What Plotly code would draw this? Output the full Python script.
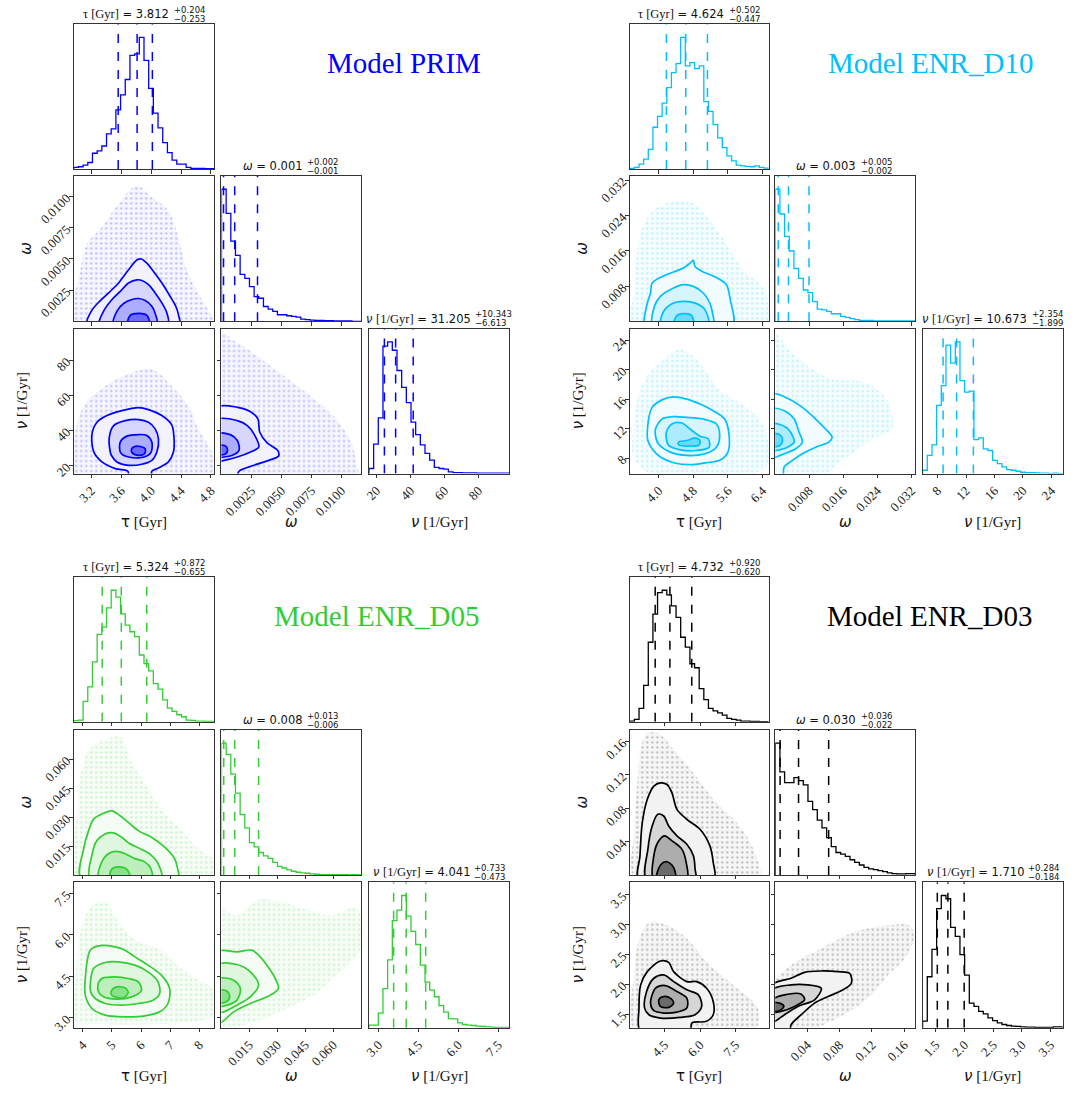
import numpy as np
import plotly.graph_objects as go

W, H = 1083, 1099

# ======================= DATA =======================
# ---------- Model PRIM ----------
prim_tau_range = [2.964, 4.844]
prim_omega_range = [0.0, 0.01165]
prim_nu_range = [15.5, 98.0]
prim_tau_counts = [5, 7, 12, 20, 48, 55, 70, 107, 122, 180, 225, 272, 345, 350, 400, 330, 245, 170, 125, 80, 50, 27, 15, 15, 5, 2, 2, 2, 1, 1]
prim_omega_counts = [400, 327, 243, 200, 142, 130, 105, 75, 70, 45, 37, 30, 20, 20, 17, 15, 13, 7, 5, 4, 3, 3, 2, 2, 1, 1, 1, 1, 0, 0]
prim_nu_counts = [15, 87, 165, 377, 390, 365, 305, 255, 210, 152, 115, 85, 60, 40, 18, 15, 13, 5, 3, 3, 2, 2, 2, 1, 1, 1, 1, 1, 1, 1]
prim_tau_q = [3.559, 3.812, 4.016]
prim_omega_q = [0.00017, 0.0011, 0.0030]
prim_nu_q = [24.592, 31.205, 41.548]
prim_tau_ticks = [3.2, 3.6, 4.0, 4.4, 4.8]
prim_tau_ticktext = ["3.2", "3.6", "4.0", "4.4", "4.8"]
prim_omega_ticks = [0.0025, 0.005, 0.0075, 0.01]
prim_omega_ticktext = ["0.0025", "0.0050", "0.0075", "0.0100"]
prim_nu_ticks = [20, 40, 60, 80]
prim_nu_ticktext = ["20", "40", "60", "80"]
prim_stats = [("3.812", "+0.204", "−0.253"), ("0.001", "+0.002", "−0.001"), ("31.205", "+10.343", "−6.613")]

prim_tw_env = ([3.009, 3.053, 3.143, 3.343, 3.564, 3.809, 4.009, 4.231, 4.364, 4.476, 4.676, 4.809, 4.831],
               [-0.0003, 0.00413, 0.00625, 0.00757, 0.00942, 0.01088, 0.00995, 0.00889, 0.00677, 0.00413, 0.00175, 0.00042, -0.0003])
prim_tw_c4 = ([3.143, 3.200, 3.297, 3.431, 3.564, 3.697, 3.809, 3.867, 3.943, 4.031, 4.143, 4.253, 4.329, 4.364, 4.373],
              [-0.0003, 0.00082, 0.00153, 0.00228, 0.00307, 0.00413, 0.00492, 0.00500, 0.00466, 0.00399, 0.00307, 0.00201, 0.00121, 0.00056, -0.0003])
prim_tw_c3 = ([3.307, 3.364, 3.476, 3.587, 3.697, 3.809, 3.876, 3.964, 4.053, 4.143, 4.209, 4.223],
              [-0.0003, 0.00082, 0.00175, 0.00241, 0.00307, 0.00333, 0.00328, 0.00294, 0.00228, 0.00148, 0.00069, -0.0003])
prim_tw_c2 = ([3.497, 3.543, 3.631, 3.743, 3.831, 3.920, 4.009, 4.053, 4.076],
              [-0.0003, 0.00082, 0.00143, 0.00175, 0.00183, 0.00167, 0.00121, 0.00064, -0.0003])
prim_tw_c1 = ([3.688, 3.720, 3.831, 3.943, 3.973],
              [-0.0003, 0.00048, 0.00064, 0.00048, -0.0003])

prim_tn_env = ([2.995, 2.995, 3.098, 3.387, 3.742, 4.009, 4.275, 4.498, 4.631, 4.809, 4.844],
               [14.0, 40.9, 54.0, 65.4, 72.9, 74.8, 65.4, 54.0, 40.9, 27.75, 14.0])
prim_tn_c4 = ([3.706, 3.689, 3.520, 3.342, 3.231, 3.209, 3.275, 3.409, 3.609, 3.831, 3.964, 4.142, 4.275, 4.306, 4.298, 4.231, 4.098, 4.009, 4.000],
              [14.0, 16.8, 18.3, 22.1, 28.0, 38.1, 44.7, 48.5, 51.3, 53.0, 51.9, 48.5, 43.2, 35.3, 27.75, 22.1, 18.7, 16.8, 14.0])
prim_tn_c3 = ([3.453, 3.440, 3.498, 3.653, 3.831, 3.964, 4.053, 4.098, 4.076, 4.009, 3.875, 3.698, 3.542, 3.467],
              [27.75, 36.2, 42.8, 45.6, 46.2, 44.7, 40.9, 35.3, 27.75, 23.0, 20.8, 20.2, 22.1, 25.9])
prim_tn_c2 = ([3.586, 3.586, 3.675, 3.831, 3.942, 4.009, 4.000, 3.942, 3.831, 3.698, 3.618],
              [27.75, 33.4, 36.8, 37.7, 37.2, 33.4, 27.75, 25.5, 24.4, 24.9, 26.2])
prim_tn_c1 = ([3.733, 3.764, 3.853, 3.920, 3.911, 3.831, 3.764],
              [28.7, 30.6, 30.9, 29.6, 26.8, 25.9, 26.6])

prim_wn_env = ([-0.0003, 0.00132, 0.00297, 0.00517, 0.00737, 0.00930, 0.01081, 0.01122, 0.01136, -0.0003],
               [95.5, 89.9, 82.4, 71.1, 59.8, 48.5, 33.4, 22.1, 14.0, 14.0])
prim_wn_c4 = ([-0.0003, 0.00132, 0.00242, 0.00303, 0.00319, 0.00380, 0.00468, 0.00476, 0.00393, 0.00270, 0.00146, 0.00127, -0.0003],
              [53.2, 53.2, 50.7, 46.6, 39.0, 33.0, 28.7, 25.5, 23.0, 20.2, 16.8, 14.0, 14.0])
prim_wn_c3 = ([-0.0003, 0.00132, 0.00215, 0.00270, 0.00311, 0.00242, 0.00132, 0.00022, -0.0003],
              [46.2, 45.6, 42.8, 38.1, 30.6, 27.75, 24.9, 23.0, 22.7])
prim_wn_c2 = ([-0.0003, 0.00077, 0.00132, 0.00146, 0.00091, 0.00022, -0.0003],
              [38.1, 37.5, 34.3, 28.7, 25.9, 24.9, 24.9])
prim_wn_c1 = ([-0.0003, 0.00036, 0.00050, 0.00036, -0.0003],
              [31.5, 31.1, 28.7, 26.8, 26.2])

# ---------- Model ENR_D10 ----------
d10_tau_range = [3.33, 6.54]
d10_omega_range = [0.0001, 0.0329]
d10_nu_range = [5.9, 25.57]
d10_tau_counts = [2, 5, 15, 30, 60, 127, 160, 200, 247, 293, 320, 400, 313, 323, 305, 313, 205, 175, 135, 95, 65, 40, 25, 12, 10, 8, 7, 10, 5, 3]
d10_omega_counts = [400, 325, 257, 213, 160, 130, 95, 87, 60, 37, 35, 30, 23, 23, 15, 12, 8, 5, 3, 3, 3, 1, 1, 1, 1, 1, 1, 1, 1, 1]
d10_nu_counts = [10, 55, 87, 207, 267, 390, 335, 400, 282, 247, 250, 103, 108, 75, 70, 40, 30, 20, 12, 10, 7, 4, 3, 3, 2, 1, 1, 0, 1, 0]
d10_tau_q = [4.177, 4.624, 5.126]
d10_omega_q = [0.0008, 0.0032, 0.0080]
d10_nu_q = [8.774, 10.673, 13.027]
d10_tau_ticks = [4.0, 4.8, 5.6, 6.4]
d10_tau_ticktext = ["4.0", "4.8", "5.6", "6.4"]
d10_omega_ticks = [0.008, 0.016, 0.024, 0.032]
d10_omega_ticktext = ["0.008", "0.016", "0.024", "0.032"]
d10_nu_ticks = [8, 12, 16, 20, 24]
d10_nu_ticktext = ["8", "12", "16", "20", "24"]
d10_stats = [("4.624", "+0.502", "−0.447"), ("0.003", "+0.005", "−0.002"), ("10.673", "+2.354", "−1.899")]

d10_tw_env = ([3.390, 3.428, 3.581, 3.885, 4.343, 4.800, 5.105, 5.562, 5.942, 6.40, 6.514, 6.537],
              [-0.001, 0.0065, 0.020, 0.02525, 0.02713, 0.02675, 0.02375, 0.01775, 0.01175, 0.008, 0.005, -0.001])
d10_tw_c4 = ([3.695, 3.718, 3.809, 3.847, 4.038, 4.343, 4.571, 4.724, 4.800, 4.838, 5.028, 5.333, 5.562, 5.653, 5.699],
             [-0.001, 0.0035, 0.0065, 0.00875, 0.0100, 0.01125, 0.01213, 0.01325, 0.01385, 0.0125, 0.01125, 0.0100, 0.0084, 0.0050, -0.001])
d10_tw_c3 = ([3.870, 3.901, 4.038, 4.343, 4.571, 4.800, 5.028, 5.181, 5.242, 5.257],
             [-0.001, 0.0035, 0.00575, 0.00763, 0.00838, 0.0080, 0.0065, 0.00425, 0.0020, -0.001])
d10_tw_c2 = ([4.053, 4.114, 4.305, 4.571, 4.876, 5.066, 5.143],
             [-0.001, 0.00238, 0.0041, 0.00463, 0.0041, 0.00275, -0.001])
d10_tw_c1 = ([4.343, 4.419, 4.571, 4.762, 4.800],
             [-0.001, 0.0014, 0.00185, 0.0014, -0.001])

d10_tn_env = ([3.413, 3.504, 3.733, 4.114, 4.495, 4.876, 5.409, 5.866, 6.324, 6.514, 6.514, 5.866, 3.962, 3.428],
              [11.95, 16.0, 19.15, 21.39, 22.74, 21.39, 17.25, 15.55, 13.3, 10.61, 7.01, 5.5, 5.5, 7.91])
d10_tn_c4 = ([3.733, 3.847, 4.114, 4.343, 4.647, 4.952, 5.257, 5.524, 5.623, 5.600, 5.409, 5.105, 4.724, 4.343, 4.038, 3.847, 3.748],
             [11.28, 14.88, 16.0, 16.31, 16.0, 15.33, 14.43, 13.3, 11.28, 8.81, 7.69, 7.37, 7.10, 7.37, 8.14, 9.26, 10.38])
d10_tn_c3 = ([3.924, 4.076, 4.343, 4.647, 5.028, 5.333, 5.409, 5.333, 5.066, 4.647, 4.266, 3.990, 3.924],
             [11.95, 13.3, 13.62, 13.53, 13.3, 12.63, 11.06, 9.48, 8.59, 8.36, 8.81, 9.93, 11.06])
d10_tn_c2 = ([4.175, 4.305, 4.533, 4.724, 4.952, 5.143, 5.165, 4.876, 4.495, 4.228, 4.175],
             [11.5, 12.63, 12.76, 11.95, 10.97, 10.61, 9.48, 9.03, 9.12, 9.71, 10.61])
d10_tn_c1 = ([4.457, 4.647, 4.838, 4.952, 4.937, 4.647, 4.457],
             [10.16, 10.38, 10.7, 10.38, 9.80, 9.62, 9.8])

d10_wn_env = ([-0.0005, 0.00413, 0.00877, 0.01342, 0.01961, 0.02271, 0.02658, 0.02736, 0.02271, 0.01884, 0.01497, 0.0111, -0.0005],
              [24.99, 22.29, 20.04, 18.7, 18.47, 17.8, 15.55, 11.95, 10.61, 8.81, 7.46, 5.5, 5.5])
d10_wn_c4 = ([-0.0005, 0.00258, 0.00645, 0.00955, 0.01187, 0.01342, 0.01265, 0.00955, 0.00645, 0.00413, 0.00219, 0.0018, -0.0005],
             [16.67, 16.22, 14.88, 13.3, 11.95, 10.83, 10.16, 9.48, 8.59, 7.69, 6.79, 5.5, 5.5])
d10_wn_c3 = ([-0.0005, 0.00219, 0.00452, 0.00568, 0.00645, 0.0049, 0.00219, 0.00026, -0.0005],
             [14.65, 14.43, 13.3, 11.5, 10.16, 9.26, 8.59, 8.14, 8.1])
d10_wn_c2 = ([-0.0005, 0.00258, 0.00413, 0.00452, 0.00297, 0.00026, -0.0005],
             [12.63, 12.18, 11.06, 10.16, 9.48, 9.03, 9.0])
d10_wn_c1 = ([-0.0005, 0.00118, 0.0018, 0.00118, -0.0005],
             [11.28, 11.14, 10.38, 9.71, 9.62])

# ---------- Model ENR_D05 ----------
d05_tau_range = [3.694, 8.51]
d05_omega_range = [0.0001, 0.0751]
d05_nu_range = [2.64, 7.91]
d05_tau_counts = [3, 5, 61, 105, 180, 263, 285, 343, 396, 375, 325, 291, 271, 256, 201, 175, 153, 115, 98, 66, 41, 31, 21, 15, 5, 4, 2, 2, 1, 1]
d05_omega_counts = [400, 366, 306, 248, 183, 143, 98, 85, 68, 58, 50, 38, 26, 21, 15, 11, 8, 6, 5, 3, 2, 1, 1, 1, 1, 1, 1, 0, 1, 0]
d05_nu_counts = [8, 8, 45, 120, 208, 328, 360, 405, 342, 295, 255, 192, 140, 115, 95, 68, 48, 28, 27, 15, 10, 8, 7, 5, 4, 3, 2, 1, 1, 1]
d05_tau_q = [4.669, 5.324, 6.196]
d05_omega_q = [0.0013, 0.0072, 0.0200]
d05_nu_q = [3.568, 4.041, 4.774]
d05_tau_ticks = [4, 5, 6, 7, 8]
d05_tau_ticktext = ["4", "5", "6", "7", "8"]
d05_omega_ticks = [0.015, 0.030, 0.045, 0.060]
d05_omega_ticktext = ["0.015", "0.030", "0.045", "0.060"]
d05_nu_ticks = [3.0, 4.5, 6.0, 7.5]
d05_nu_ticktext = ["3.0", "4.5", "6.0", "7.5"]
d05_stats = [("5.324", "+0.872", "−0.655"), ("0.008", "+0.013", "−0.006"), ("4.041", "+0.733", "−0.473")]

d05_tw_env = ([3.773, 3.807, 3.921, 4.204, 4.770, 5.280, 5.677, 6.130, 6.697, 7.376, 7.943, 8.453, 8.487],
              [-0.002, 0.03068, 0.05114, 0.06477, 0.06989, 0.07159, 0.05796, 0.04773, 0.03409, 0.02386, 0.01364, 0.00853, -0.002])
d05_tw_c4 = ([3.955, 4.034, 4.204, 4.374, 4.657, 4.997, 5.280, 5.563, 5.903, 6.357, 6.810, 7.150, 7.263, 7.286],
             [-0.002, 0.01364, 0.02301, 0.02898, 0.03154, 0.03324, 0.03068, 0.02727, 0.02301, 0.01961, 0.01449, 0.00853, 0.00256, -0.002])
d05_tw_c3 = ([4.260, 4.317, 4.487, 4.770, 5.054, 5.337, 5.620, 6.017, 6.357, 6.583, 6.697],
             [-0.002, 0.01023, 0.01790, 0.02131, 0.02182, 0.01961, 0.01620, 0.01330, 0.01023, 0.00597, -0.002])
d05_tw_c2 = ([4.567, 4.657, 4.884, 5.167, 5.450, 5.790, 6.130, 6.334, 6.357],
             [-0.002, 0.00682, 0.01108, 0.01227, 0.01108, 0.00853, 0.00682, 0.00341, -0.002])
d05_tw_c1 = ([4.940, 4.997, 5.224, 5.507, 5.620],
             [-0.002, 0.00307, 0.00426, 0.00307, -0.002])

d05_tn_env = ([3.773, 3.773, 3.921, 4.317, 4.770, 5.224, 5.903, 6.583, 7.376, 8.056, 8.453, 8.453, 7.716, 5.903, 4.204],
              [2.855, 4.545, 6.113, 7.079, 7.2, 6.475, 5.751, 5.51, 4.786, 4.303, 4.062, 3.097, 2.855, 2.759, 2.795])
d05_tn_c4 = ([4.09, 4.26, 4.544, 5.11, 5.45, 5.79, 6.243, 6.697, 6.98, 6.923, 6.64, 6.13, 5.45, 4.77, 4.317, 4.09],
             [4.424, 5.45, 5.607, 5.57, 5.45, 5.208, 4.907, 4.545, 4.062, 3.519, 3.217, 3.072, 3.036, 3.097, 3.338, 3.821])
d05_tn_c3 = ([4.26, 4.374, 4.77, 5.224, 5.79, 6.243, 6.583, 6.64, 6.413, 5.903, 5.337, 4.77, 4.43, 4.272],
             [4.183, 4.786, 5.003, 5.027, 4.907, 4.665, 4.303, 3.881, 3.64, 3.519, 3.459, 3.519, 3.7, 3.941])
d05_tn_c2 = ([4.521, 4.657, 5.11, 5.563, 5.903, 6.017, 5.677, 5.167, 4.714, 4.544],
             [4.183, 4.424, 4.484, 4.424, 4.303, 4.002, 3.76, 3.676, 3.76, 3.941])
d05_tn_c1 = ([4.997, 5.167, 5.45, 5.563, 5.394, 5.11, 4.974],
             [4.002, 4.122, 4.086, 3.917, 3.724, 3.76, 3.845])

d05_wn_env = ([-0.002, 0.00842, 0.01909, 0.03155, 0.044, 0.05824, 0.07248, 0.07461, 0.0618, 0.04935, 0.03511, 0.01731, -0.002],
              [6.958, 6.717, 7.26, 7.2, 6.958, 6.717, 6.958, 5.51, 4.545, 3.821, 3.338, 2.855, 2.674])
d05_wn_c4 = ([-0.002, 0.00842, 0.01642, 0.01998, 0.02443, 0.02799, 0.03066, 0.02621, 0.01553, 0.00664, 0.0004, -0.002],
             [5.389, 5.389, 5.45, 5.269, 4.907, 4.545, 4.062, 3.821, 3.519, 3.217, 2.855, 2.8])
d05_wn_c3 = ([-0.002, 0.00842, 0.01553, 0.01998, 0.01553, 0.00842, 0.0013, -0.002],
             [4.907, 4.931, 4.665, 4.183, 3.76, 3.459, 3.217, 3.193])
d05_wn_c2 = ([-0.002, 0.00664, 0.0102, 0.00842, 0.00308, -0.002],
             [4.4, 4.364, 4.062, 3.64, 3.459, 3.434])
d05_wn_c1 = ([-0.002, 0.00308, 0.0045, 0.00272, -0.002],
             [4.002, 3.965, 3.76, 3.58, 3.555])

# ---------- Model ENR_D03 ----------
d03_tau_range = [3.042, 8.889]
d03_omega_range = [0.0005, 0.1737]
d03_nu_range = [1.27, 3.71]
d03_tau_counts = [2, 7, 40, 110, 240, 325, 390, 397, 383, 350, 315, 255, 225, 175, 163, 100, 67, 40, 33, 27, 20, 10, 7, 5, 2, 2, 1, 1, 0, 0]
d03_omega_counts = [400, 313, 280, 280, 295, 286, 273, 223, 198, 166, 143, 113, 86, 68, 63, 56, 46, 38, 30, 23, 18, 16, 13, 10, 6, 4, 3, 3, 4, 4]
d03_nu_counts = [20, 155, 238, 362, 402, 392, 305, 278, 222, 160, 75, 65, 50, 42, 30, 22, 15, 10, 7, 5, 4, 3, 2, 2, 1, 1, 1, 1, 3, 3]
d03_tau_q = [4.112, 4.732, 5.652]
d03_omega_q = [0.0065, 0.0293, 0.0665]
d03_nu_q = [1.526, 1.710, 1.994]
d03_tau_ticks = [4.5, 6.0, 7.5]
d03_tau_ticktext = ["4.5", "6.0", "7.5"]
d03_omega_ticks = [0.04, 0.08, 0.12, 0.16]
d03_omega_ticktext = ["0.04", "0.08", "0.12", "0.16"]
d03_nu_ticks = [1.5, 2.0, 2.5, 3.0, 3.5]
d03_nu_ticktext = ["1.5", "2.0", "2.5", "3.0", "3.5"]
d03_stats = [("4.732", "+0.920", "−0.620"), ("0.030", "+0.036", "−0.022"), ("1.710", "+0.284", "−0.184")]

d03_tw_env = ([3.292, 3.222, 3.361, 3.5, 3.778, 4.333, 4.889, 5.722, 6.694, 7.667, 8.361, 8.5],
              [-0.005, 0.0511, 0.1105, 0.1501, 0.1699, 0.1679, 0.1501, 0.1224, 0.0867, 0.0590, 0.0234, -0.005])
d03_tw_c4 = ([3.43, 3.472, 3.569, 3.778, 4.056, 4.333, 4.611, 4.819, 5.028, 5.444, 6.0, 6.417, 6.556, 6.583],
             [-0.005, 0.0234, 0.0630, 0.0907, 0.1065, 0.1105, 0.1085, 0.0986, 0.0788, 0.0669, 0.0550, 0.0352, 0.0154, -0.005])
d03_tw_c3 = ([3.75, 3.806, 3.986, 4.222, 4.472, 4.681, 5.028, 5.444, 5.722, 5.792, 5.806],
             [-0.005, 0.0313, 0.0590, 0.0729, 0.0709, 0.0590, 0.0471, 0.0372, 0.0234, 0.0075, -0.005])
d03_tw_c2 = ([4.056, 4.056, 4.222, 4.5, 4.819, 5.236, 5.417, 5.444],
             [-0.005, 0.0234, 0.0392, 0.0471, 0.0412, 0.0313, 0.0154, -0.005])
d03_tw_c1 = ([4.194, 4.278, 4.542, 4.819, 4.958, 4.958],
             [-0.005, 0.0095, 0.0162, 0.0123, 0.0036, -0.005])

d03_tn_env = ([3.292, 3.222, 3.5, 3.917, 4.611, 5.444, 6.278, 7.389, 8.361, 8.5, 8.222],
              [1.2, 2.156, 2.822, 3.044, 2.989, 2.767, 2.378, 1.989, 1.656, 1.433, 1.2])
d03_tn_c4 = ([3.5, 3.43, 3.5, 3.778, 4.333, 4.681, 4.889, 5.444, 5.861, 6.278, 6.556, 6.556, 6.278, 5.653, 5.583],
             [1.2, 1.6, 1.989, 2.211, 2.389, 2.367, 2.211, 2.044, 2.044, 1.933, 1.711, 1.489, 1.378, 1.35, 1.2])
d03_tn_c3 = ([3.667, 3.75, 4.056, 4.472, 4.889, 5.444, 5.931, 6.069, 5.792, 5.167, 4.333, 3.847],
             [1.6, 1.878, 2.1, 2.156, 2.044, 1.906, 1.822, 1.628, 1.489, 1.444, 1.433, 1.489])
d03_tn_c2 = ([3.917, 4.125, 4.542, 5.028, 5.444, 5.444, 5.028, 4.472, 4.056],
             [1.683, 1.933, 1.978, 1.878, 1.767, 1.6, 1.533, 1.517, 1.556])
d03_tn_c1 = ([4.264, 4.472, 4.75, 4.889, 4.681, 4.333],
             [1.739, 1.794, 1.767, 1.683, 1.611, 1.628])

d03_wn_env = ([-0.003, -0.003, 0.0201, 0.0574, 0.0987, 0.1401, 0.1650, 0.1724, 0.1608, 0.1401, 0.1194, 0.0987, 0.0698, 0.0367],
              [1.2, 1.989, 2.322, 2.6, 2.878, 2.989, 2.989, 2.822, 2.433, 2.156, 1.822, 1.6, 1.378, 1.2])
d03_wn_c4 = ([-0.003, 0.0201, 0.0367, 0.0574, 0.0781, 0.0925, 0.0946, 0.0843, 0.0657, 0.0491, 0.0326, 0.0201, 0.0181, -0.003],
             [1.989, 2.1, 2.2, 2.222, 2.211, 2.183, 2.017, 1.906, 1.794, 1.683, 1.489, 1.322, 1.2, 1.2])
d03_wn_c3 = ([-0.003, 0.0201, 0.0408, 0.0574, 0.0491, 0.0284, 0.0119, 0.0003, -0.003],
             [1.906, 1.989, 1.989, 1.933, 1.739, 1.628, 1.489, 1.378, 1.37])
d03_wn_c2 = ([-0.003, 0.0119, 0.0326, 0.0367, 0.0243, 0.0077, -0.003],
             [1.739, 1.822, 1.833, 1.739, 1.628, 1.544, 1.533])
d03_wn_c1 = ([-0.003, 0.0057, 0.0111, 0.0057, -0.003],
             [1.683, 1.683, 1.628, 1.556, 1.556])

# ======================= LAYOUT HELPERS =======================
SANS = "DejaVu Sans"
SERIF = "Liberation Serif"

COLS = {"L": [(68.3, 210.0), (217.3, 358.3), (366.0, 507.3)],
        "R": [(629.0, 769.0), (775.7, 917.0), (924.3, 1065.5)]}
ROWS = {"T": [(22.3, 168.3), (175.3, 321.7), (329.0, 475.0)],
        "B": [(579.3, 725.0), (733.3, 879.3), (886.7, 1033.3)]}

models = [
    dict(name="Model PRIM", rgb=(0, 0, 255), cols="L", rows="T", tx=481, ty=61,
         ranges=[prim_tau_range, prim_omega_range, prim_nu_range],
         counts=[prim_tau_counts, prim_omega_counts, prim_nu_counts],
         q=[prim_tau_q, prim_omega_q, prim_nu_q],
         ticks=[prim_tau_ticks, prim_omega_ticks, prim_nu_ticks],
         ticktext=[prim_tau_ticktext, prim_omega_ticktext, prim_nu_ticktext],
         stats=prim_stats,
         pairs={(1, 0): [prim_tw_env, prim_tw_c4, prim_tw_c3, prim_tw_c2, prim_tw_c1],
                (2, 0): [prim_tn_env, prim_tn_c4, prim_tn_c3, prim_tn_c2, prim_tn_c1],
                (2, 1): [prim_wn_env, prim_wn_c4, prim_wn_c3, prim_wn_c2, prim_wn_c1]}),
    dict(name="Model ENR_D10", rgb=(0, 191, 255), cols="R", rows="T", tx=1038, ty=61,
         ranges=[d10_tau_range, d10_omega_range, d10_nu_range],
         counts=[d10_tau_counts, d10_omega_counts, d10_nu_counts],
         q=[d10_tau_q, d10_omega_q, d10_nu_q],
         ticks=[d10_tau_ticks, d10_omega_ticks, d10_nu_ticks],
         ticktext=[d10_tau_ticktext, d10_omega_ticktext, d10_nu_ticktext],
         stats=d10_stats,
         pairs={(1, 0): [d10_tw_env, d10_tw_c4, d10_tw_c3, d10_tw_c2, d10_tw_c1],
                (2, 0): [d10_tn_env, d10_tn_c4, d10_tn_c3, d10_tn_c2, d10_tn_c1],
                (2, 1): [d10_wn_env, d10_wn_c4, d10_wn_c3, d10_wn_c2, d10_wn_c1]}),
    dict(name="Model ENR_D05", rgb=(50, 205, 50), cols="L", rows="B", tx=479, ty=618,
         ranges=[d05_tau_range, d05_omega_range, d05_nu_range],
         counts=[d05_tau_counts, d05_omega_counts, d05_nu_counts],
         q=[d05_tau_q, d05_omega_q, d05_nu_q],
         ticks=[d05_tau_ticks, d05_omega_ticks, d05_nu_ticks],
         ticktext=[d05_tau_ticktext, d05_omega_ticktext, d05_nu_ticktext],
         stats=d05_stats,
         pairs={(1, 0): [d05_tw_env, d05_tw_c4, d05_tw_c3, d05_tw_c2, d05_tw_c1],
                (2, 0): [d05_tn_env, d05_tn_c4, d05_tn_c3, d05_tn_c2, d05_tn_c1],
                (2, 1): [d05_wn_env, d05_wn_c4, d05_wn_c3, d05_wn_c2, d05_wn_c1]}),
    dict(name="Model ENR_D03", rgb=(0, 0, 0), cols="R", rows="B", tx=1037, ty=618,
         ranges=[d03_tau_range, d03_omega_range, d03_nu_range],
         counts=[d03_tau_counts, d03_omega_counts, d03_nu_counts],
         q=[d03_tau_q, d03_omega_q, d03_nu_q],
         ticks=[d03_tau_ticks, d03_omega_ticks, d03_nu_ticks],
         ticktext=[d03_tau_ticktext, d03_omega_ticktext, d03_nu_ticktext],
         stats=d03_stats,
         pairs={(1, 0): [d03_tw_env, d03_tw_c4, d03_tw_c3, d03_tw_c2, d03_tw_c1],
                (2, 0): [d03_tn_env, d03_tn_c4, d03_tn_c3, d03_tn_c2, d03_tn_c1],
                (2, 1): [d03_wn_env, d03_wn_c4, d03_wn_c3, d03_wn_c2, d03_wn_c1]}),
]

SANS_W = {**{d: 0.636 for d in "0123456789"}, ".": 0.318, "=": 0.838, " ": 0.318,
          "+": 0.838, "−": 0.838, "ω": 0.70, "ν": 0.60}
SERIF_W = {"[": 0.333, "]": 0.333, "G": 0.722, "y": 0.5, "r": 0.333, "1": 0.5,
           "/": 0.278, " ": 0.25, "τ": 0.45}


def text_w(s, table, size):
    return sum(table.get(ch, 0.6) for ch in s) * size


def mix(rgb, a):
    return "rgb(%d,%d,%d)" % tuple(round(255 - (255 - v) * a) for v in rgb)


def rgba(rgb, a):
    return "rgba(%d,%d,%d,%.3f)" % (rgb[0], rgb[1], rgb[2], a)


AX_COLOR = "#333333"
TICKFONT = dict(family=SERIF, size=13, color="#222222")
common = dict(showline=True, mirror=True, linecolor=AX_COLOR, linewidth=1,
              ticks="outside", ticklen=3.5, tickwidth=1, tickcolor=AX_COLOR,
              showgrid=False, zeroline=False, tickangle=-45, tickfont=TICKFONT)

fig = go.Figure()
axes = {}
annotations = []
k = 0
SERIF_SIZE, SANS_SIZE, SUP_SIZE = 12.5, 11.5, 8.5
serif_span = '<span style="font-family:%s;font-size:12.5px">' % SERIF

for m in models:
    cols = COLS[m["cols"]]
    rows = ROWS[m["rows"]]
    rgb = m["rgb"]
    col = "rgb(%d,%d,%d)" % rgb
    for (r, c) in [(0, 0), (1, 0), (1, 1), (2, 0), (2, 1), (2, 2)]:
        k += 1
        xa = "x" if k == 1 else "x%d" % k
        ya = "y" if k == 1 else "y%d" % k
        x0, x1 = cols[c]
        y0, y1 = rows[r]
        xaxis = dict(common, domain=[x0 / W, x1 / W], range=m["ranges"][c], anchor=ya,
                     tickvals=m["ticks"][c], ticktext=m["ticktext"][c],
                     showticklabels=(r == 2))
        if r == c:
            counts = m["counts"][c]
            ymax = 1.1 * max(counts)
            yaxis = dict(domain=[1 - y1 / H, 1 - y0 / H], range=[0, ymax], anchor=xa,
                         showline=True, mirror=True, linecolor=AX_COLOR, linewidth=1,
                         ticks="", showticklabels=False, showgrid=False, zeroline=False)
            lo, hi = m["ranges"][c]
            edges = np.linspace(lo, hi, len(counts) + 1)
            xs = [edges[0]] + list(edges[:-1]) + [edges[-1], edges[-1]]
            ys = [0] + list(counts) + [counts[-1], 0]
            fig.add_trace(go.Scatter(x=xs, y=ys, mode="lines", xaxis=xa, yaxis=ya,
                                     line=dict(color=col, width=1.3, shape="hv"),
                                     hoverinfo="skip", showlegend=False))
            for qv in m["q"][c]:
                fig.add_trace(go.Scatter(x=[qv, qv], y=[0, ymax], mode="lines", xaxis=xa, yaxis=ya,
                                         line=dict(color=col, width=1.5, dash="dash"),
                                         hoverinfo="skip", showlegend=False))
            val, sup, sub = m["stats"][c]
            if c == 0:
                main_txt = serif_span + "τ [Gyr]</span> = " + val
                main_w = text_w("τ [Gyr]", SERIF_W, SERIF_SIZE) + text_w(" = " + val, SANS_W, SANS_SIZE)
            elif c == 1:
                main_txt = "<i>ω</i> = " + val
                main_w = text_w("ω = " + val, SANS_W, SANS_SIZE)
            else:
                main_txt = "<i>ν</i> " + serif_span + "[1/Gyr]</span> = " + val
                main_w = text_w("[1/Gyr]", SERIF_W, SERIF_SIZE) + text_w("ν  = " + val, SANS_W, SANS_SIZE)
            sup_w = max(text_w(sup, SANS_W, SUP_SIZE), text_w(sub, SANS_W, SUP_SIZE))
            cx = (x0 + x1) / 2
            split = cx + (main_w - sup_w) / 2
            annotations.append(dict(x=split / W, y=1 - (y0 - 10) / H, xref="paper", yref="paper",
                                    xanchor="right", yanchor="middle", showarrow=False, text=main_txt,
                                    font=dict(family=SANS, size=SANS_SIZE, color="#111111")))
            annotations.append(dict(x=(split + 0.5) / W, y=1 - (y0 - 14.5) / H, xref="paper", yref="paper",
                                    xanchor="left", yanchor="middle", showarrow=False, text=sup,
                                    font=dict(family=SANS, size=SUP_SIZE, color="#111111")))
            annotations.append(dict(x=(split + 0.5) / W, y=1 - (y0 - 5.5) / H, xref="paper", yref="paper",
                                    xanchor="left", yanchor="middle", showarrow=False, text=sub,
                                    font=dict(family=SANS, size=SUP_SIZE, color="#111111")))
        else:
            yaxis = dict(common, domain=[1 - y1 / H, 1 - y0 / H], range=m["ranges"][r], anchor=xa,
                         tickvals=m["ticks"][r], ticktext=m["ticktext"][r],
                         showticklabels=(c == 0))
            env, c4, c3, c2, c1 = m["pairs"][(r, c)]
            fig.add_trace(go.Scatter(x=list(env[0]) + [env[0][0]], y=list(env[1]) + [env[1][0]],
                                     mode="lines", fill="toself", fillcolor=rgba(rgb, 0.035),
                                     fillpattern=dict(shape=".", fgcolor=rgba(rgb, 0.5), size=5,
                                                      solidity=0.16, fillmode="overlay"),
                                     line=dict(width=0, color=rgba(rgb, 0.0), shape="spline"),
                                     xaxis=xa, yaxis=ya, hoverinfo="skip", showlegend=False))
            for shp, a in zip([c4, c3, c2, c1], [0.05, 0.16, 0.32, 0.58]):
                fig.add_trace(go.Scatter(x=list(shp[0]) + [shp[0][0]], y=list(shp[1]) + [shp[1][0]],
                                         mode="lines", fill="toself", fillcolor=mix(rgb, a),
                                         line=dict(color=col, width=1.7, shape="spline", smoothing=0.9),
                                         xaxis=xa, yaxis=ya, hoverinfo="skip", showlegend=False))
        axes["xaxis" if k == 1 else "xaxis%d" % k] = xaxis
        axes["yaxis" if k == 1 else "yaxis%d" % k] = yaxis

    annotations.append(dict(x=m["tx"] / W, y=1 - m["ty"] / H, xref="paper", yref="paper",
                            xanchor="right", yanchor="middle", showarrow=False, text=m["name"],
                            font=dict(family=SERIF, size=29, color=col)))
    xlab_y = rows[2][1] + 49
    nu_lab = '<span style="font-family:DejaVu Sans"><i>ν</i></span> [1/Gyr]'
    tau_lab = '<span style="font-family:DejaVu Sans">τ</span> [Gyr]'
    om_lab = '<span style="font-family:DejaVu Sans"><i>ω</i></span>'
    xlabels = [tau_lab, om_lab, nu_lab]
    for c in range(3):
        cx = (cols[c][0] + cols[c][1]) / 2
        annotations.append(dict(x=cx / W, y=1 - xlab_y / H, xref="paper", yref="paper",
                                xanchor="center", yanchor="middle", showarrow=False, text=xlabels[c],
                                font=dict(family=SERIF, size=15, color="#111111")))
    annotations.append(dict(x=(cols[0][0] - 48) / W, y=1 - (rows[1][0] + rows[1][1]) / 2 / H,
                            xref="paper", yref="paper", xanchor="center", yanchor="middle",
                            showarrow=False, text=om_lab, textangle=-90,
                            font=dict(family=SERIF, size=15, color="#111111")))
    annotations.append(dict(x=(cols[0][0] - 52) / W, y=1 - (rows[2][0] + rows[2][1]) / 2 / H,
                            xref="paper", yref="paper", xanchor="center", yanchor="middle",
                            showarrow=False, text=nu_lab, textangle=-90,
                            font=dict(family=SERIF, size=15, color="#111111")))

fig.update_layout(width=W, height=H, margin=dict(l=0, r=0, t=0, b=0),
                  paper_bgcolor="white", plot_bgcolor="white", showlegend=False,
                  annotations=annotations, **axes)
fig.write_html("out.html")
